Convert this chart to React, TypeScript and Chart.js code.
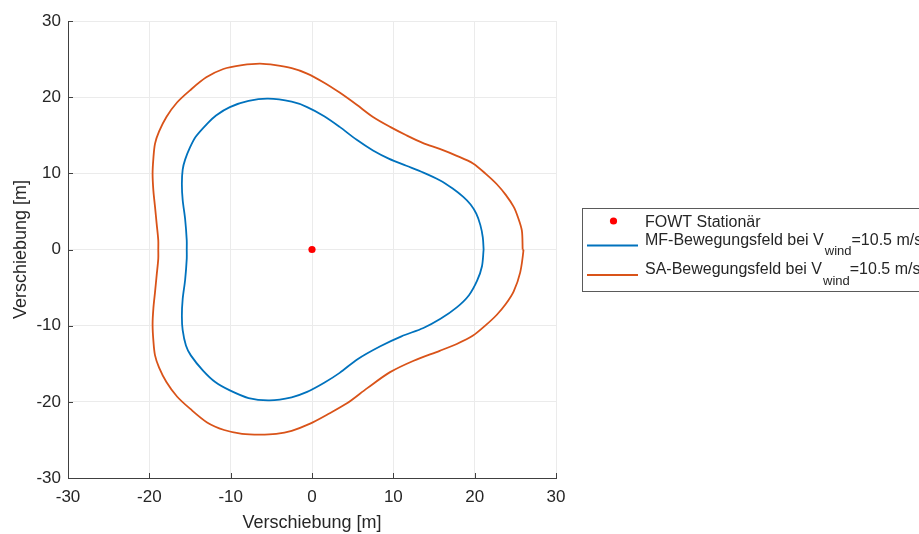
import { useEffect, useRef } from "react";
import { Chart, registerables } from "chart.js";

Chart.register(...registerables);

const FONT = '"Liberation Sans", Arial, Helvetica, sans-serif';
const INK = "#262626";
const AXIS_LINE = "#404040";
const GRID = "#ebebeb";
const MF_COLOR = "#0072BD";
const SA_COLOR = "#D95319";
const FOWT_COLOR = "#FF0000";

// axis limits and ticks (both axes)
const AXIS_MIN = -30;
const AXIS_MAX = 30;
const TICK_STEP = 10;
const xTitle = "Verschiebung [m]";
const yTitle = "Verschiebung [m]";

// stationary FOWT position
const fowtX = [0];
const fowtY = [0];

// MF motion field boundary (closed contour)
const mfX = [
  21.1, 21.0, 20.7, 20.2, 19.5, 18.6, 17.3, 15.7, 13.7, 11.6, 9.5, 7.5, 5.5, 3.4, 1.5, -0.6, -2.5, -5.4,
  -7.8, -10.1, -11.8, -12.9, -14.3, -15.0, -15.6, -15.9, -16.0, -15.9, -15.6, -15.4, -15.4,
  -15.4, -15.6, -15.9, -16.0, -15.9, -15.5, -14.9, -13.4, -11.9, -10.1, -7.8, -5.2, -2.5, -0.6, 1.5,
  3.4, 5.6, 8.4, 11.0, 13.7, 15.8, 17.8, 19.3, 20.3, 20.9, 21.1,
];
const mfY = [
  0, 1.6, 3.2, 4.7, 5.9, 6.9, 8.0, 9.1, 10.1, 11.0, 11.9, 13.0, 14.4, 16.1, 17.5, 18.7, 19.4, 19.8,
  19.5, 18.7, 17.6, 16.5, 14.8, 13.4, 11.8, 10.5, 8.6, 6.5, 4.0, 1.2, 0,
  -1.2, -4.0, -6.5, -8.7, -10.6, -12.6, -13.9, -15.9, -17.4, -18.5, -19.5, -19.8, -19.4, -18.7, -17.5,
  -16.2, -14.4, -12.7, -11.4, -10.3, -9.1, -7.6, -6.0, -4.1, -2.2, 0,
];

// SA motion field boundary (closed contour)
const saX = [
  25.9, 25.8, 25.3, 24.8, 23.8, 22.7, 21.4, 19.8, 17.8, 15.7, 13.6, 11.6, 9.6, 7.5, 5.5, 3.4, 1.5, -0.6,
  -2.5, -4.5, -6.4, -8.6, -10.9, -13.0, -15.0, -16.6, -17.9, -18.8, -19.3, -19.5, -19.6, -19.5, -19.3,
  -19.1, -18.9, -18.9,
  -18.9, -19.1, -19.3, -19.5, -19.6, -19.5, -19.3, -18.8, -17.9, -16.6, -15.0, -12.9, -10.8, -8.6, -6.4,
  -4.4, -2.5, -0.3, 2.0, 4.3, 6.8, 9.6, 12.5, 15.7, 17.8, 19.8, 21.4, 22.7, 23.8, 24.8, 25.6, 26.0, 25.9,
];
const saY = [
  0, 2.5, 4.3, 5.6, 7.2, 8.6, 9.9, 11.3, 12.3, 13.2, 14.0, 15.0, 16.1, 17.4, 19.0, 20.6, 21.9, 23.1,
  23.8, 24.2, 24.4, 24.2, 23.7, 22.6, 20.9, 19.3, 17.4, 15.5, 13.9, 12.0, 9.9, 7.7, 5.6,
  3.4, 1.2, 0,
  -1.2, -3.4, -5.6, -7.7, -9.8, -12.0, -13.9, -15.5, -17.4, -19.3, -20.9, -22.7, -23.7, -24.2, -24.3,
  -24.2, -23.8, -22.9, -21.6, -20.2, -18.2, -16.1, -14.6, -13.3, -12.4, -11.3, -9.9, -8.6, -7.2, -5.5, -3.0, -0.1, 0,
];

const legendFowt = "FOWT Stationär";
const legendMf = { pre: "MF-Bewegungsfeld bei V", sub: "wind", post: "=10.5 m/s" };
const legendSa = { pre: "SA-Bewegungsfeld bei V", sub: "wind", post: "=10.5 m/s" };

const toPoints = (xs: number[], ys: number[]) => xs.map((x, i) => ({ x, y: ys[i] }));

// tick marks pointing into the plot area
const innerTicks = {
  id: "innerTicks",
  afterDatasetsDraw(chart: any) {
    const { ctx, chartArea, scales } = chart;
    const { left, bottom } = chartArea;
    ctx.save();
    ctx.strokeStyle = AXIS_LINE;
    ctx.lineWidth = 1;
    ctx.beginPath();
    scales.x.ticks.forEach((t: any) => {
      const px = Math.round(scales.x.getPixelForValue(t.value)) + 0.5;
      ctx.moveTo(px, bottom);
      ctx.lineTo(px, bottom - 5);
    });
    scales.y.ticks.forEach((t: any) => {
      const py = Math.round(scales.y.getPixelForValue(t.value)) + 0.5;
      ctx.moveTo(left, py);
      ctx.lineTo(left + 5, py);
    });
    ctx.stroke();
    ctx.restore();
  },
};

// legend box with subscripted wind speed labels
const sideLegend = {
  id: "sideLegend",
  afterDraw(chart: any) {
    const ctx = chart.ctx;
    const boxLeft = 582.5;
    const boxTop = 208.5;
    const boxH = 83;
    ctx.save();
    ctx.fillStyle = "#ffffff";
    ctx.fillRect(boxLeft, boxTop, 400, boxH);
    ctx.strokeStyle = "#5a5a5a";
    ctx.lineWidth = 1;
    ctx.strokeRect(boxLeft, boxTop, 400, boxH);

    const textX = 645;
    const mainFont = `16px ${FONT}`;
    const subFont = `13px ${FONT}`;
    ctx.fillStyle = INK;
    ctx.textBaseline = "alphabetic";
    ctx.textAlign = "left";

    // FOWT marker row
    ctx.beginPath();
    ctx.fillStyle = FOWT_COLOR;
    ctx.arc(613.5, 221, 3.6, 0, Math.PI * 2);
    ctx.fill();
    ctx.fillStyle = INK;
    ctx.font = mainFont;
    ctx.fillText(legendFowt, textX, 227);

    const rows = [
      { entry: legendMf, color: MF_COLOR, base: 244.5 },
      { entry: legendSa, color: SA_COLOR, base: 274 },
    ];
    rows.forEach(({ entry, color, base }) => {
      ctx.strokeStyle = color;
      ctx.lineWidth = 1.8;
      ctx.beginPath();
      ctx.moveTo(587, base + 1);
      ctx.lineTo(638, base + 1);
      ctx.stroke();
      ctx.fillStyle = INK;
      ctx.font = mainFont;
      ctx.fillText(entry.pre, textX, base);
      let x = textX + ctx.measureText(entry.pre).width + 1;
      ctx.font = subFont;
      ctx.fillText(entry.sub, x, base + 10.5);
      x += ctx.measureText(entry.sub).width;
      ctx.font = mainFont;
      ctx.fillText(entry.post, x, base);
    });
    ctx.restore();
  },
};

export default function App() {
  const canvasRef = useRef<HTMLCanvasElement | null>(null);

  useEffect(() => {
    if (!canvasRef.current) return;
    Chart.defaults.font.family = FONT;
    Chart.defaults.color = INK;

    const axisCommon = {
      type: "linear" as const,
      min: AXIS_MIN,
      max: AXIS_MAX,
      grid: { color: GRID, lineWidth: 1, drawTicks: false, tickLength: 0 },
      border: { display: true, color: AXIS_LINE, width: 1 },
    };

    const chart = new Chart(canvasRef.current, {
      type: "scatter",
      data: {
        datasets: [
          {
            label: legendFowt,
            data: toPoints(fowtX, fowtY),
            pointRadius: 3.6,
            pointBackgroundColor: FOWT_COLOR,
            pointBorderColor: FOWT_COLOR,
            pointBorderWidth: 0,
          },
          {
            label: "MF",
            data: toPoints(mfX, mfY),
            showLine: true,
            borderColor: MF_COLOR,
            borderWidth: 1.8,
            pointRadius: 0,
            tension: 0.3,
            fill: false,
          },
          {
            label: "SA",
            data: toPoints(saX, saY),
            showLine: true,
            borderColor: SA_COLOR,
            borderWidth: 1.8,
            pointRadius: 0,
            tension: 0.3,
            fill: false,
          },
        ],
      },
      options: {
        animation: false,
        responsive: false,
        devicePixelRatio: 1,
        events: [],
        layout: { padding: { left: 0, top: 21, right: 363, bottom: 0 } },
        plugins: { legend: { display: false }, tooltip: { enabled: false } },
        scales: {
          x: {
            ...axisCommon,
            position: "bottom",
            ticks: { stepSize: TICK_STEP, padding: 9, font: { size: 17 }, color: INK, maxRotation: 0 },
            title: { display: true, text: xTitle, font: { size: 18 }, color: INK, padding: { top: 0, bottom: 0 } },
            afterFit: (s: any) => {
              s.height = 56;
            },
          },
          y: {
            ...axisCommon,
            position: "left",
            ticks: { stepSize: TICK_STEP, padding: 7, font: { size: 17 }, color: INK },
            title: { display: true, text: yTitle, font: { size: 18 }, color: INK, padding: { top: 10, bottom: 0 } },
            afterFit: (s: any) => {
              s.width = 68;
            },
          },
        },
      },
      plugins: [innerTicks, sideLegend],
    });
    return () => chart.destroy();
  }, []);

  return (
    <div style={{ position: "absolute", left: 0, top: 0, width: 919, height: 534, background: "#fff" }}>
      <canvas ref={canvasRef} width={919} height={534} style={{ display: "block" }} />
    </div>
  );
}
